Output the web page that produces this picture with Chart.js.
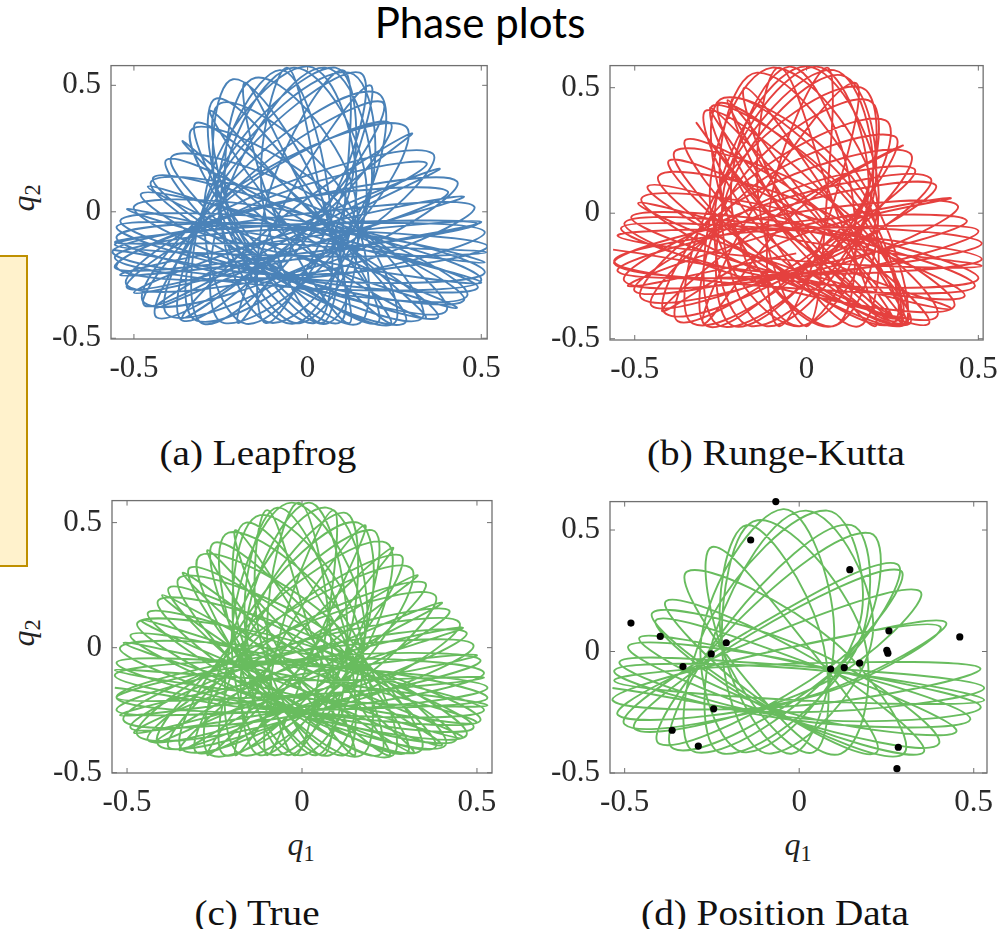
<!DOCTYPE html>
<html><head><meta charset="utf-8">
<script src="https://cdn.jsdelivr.net/npm/chart.js@4.4.0/dist/chart.umd.min.js"></script>
<style>
html,body{margin:0;padding:0;background:#fff;}
body{width:1002px;height:929px;position:relative;overflow:hidden;}
.abs{position:absolute;}
.title{font-family:Lato,"Open Sans",sans-serif;font-size:42px;line-height:42px;color:#000;white-space:nowrap;text-align:center;width:400px;}
.cap{font-family:"Liberation Serif","Times New Roman",serif;font-size:35px;line-height:35px;color:#111;white-space:nowrap;text-align:center;width:400px;transform:scaleX(1.12);transform-origin:center;}
.ql{font-family:"Liberation Serif",serif;font-style:italic;font-size:32px;line-height:32px;white-space:nowrap;color:#222;text-align:center;width:60px;height:32px;}
.ql span{font-style:normal;font-size:70%;position:relative;top:0.25em;}
.box{left:-3px;top:255px;width:27px;height:308px;background:#FFF2CC;border:2px solid #BF9000;}
</style></head>
<body>
<div class="abs box"></div>
<div class="abs title" style="left:280px;top:1px;">Phase plots</div>
<div class="abs cap" style="left:58px;top:436px;">(a) Leapfrog</div>
<div class="abs cap" style="left:576px;top:436px;">(b) Runge-Kutta</div>
<div class="abs cap" style="left:57px;top:896px;">(c) True</div>
<div class="abs cap" style="left:575px;top:896px;">(d) Position Data</div>
<div class="abs ql" style="left:-7px;top:182px;transform:rotate(-90deg);"><i>q</i><span>2</span></div>
<div class="abs ql" style="left:-7px;top:617px;transform:rotate(-90deg);"><i>q</i><span>2</span></div>
<div class="abs ql" style="left:271px;top:828px;"><i>q</i><span>1</span></div>
<div class="abs ql" style="left:768px;top:828px;"><i>q</i><span>1</span></div>
<script>
// ---- tick labels ----
const tickValues = [-0.5, 0, 0.5];

// ---- (a) Leapfrog trajectory (q1, q2) ----
const leapfrogPath = [
[-0.562,-0.15],[-0.03,-0.25],[0.518,-0.137],[-0.02,-0.065],
[-0.55,-0.06],[-0.04,-0.26],[0.51,-0.24],[0.00,-0.04],
[-0.539,-0.035],[-0.05,-0.26],[0.49,-0.30],[0.00,-0.07],
[-0.48,0.07],[-0.07,-0.25],[0.45,-0.35],[0.03,-0.03],
[-0.444,0.136],[-0.09,-0.22],[0.375,-0.418],[0.02,-0.06],
[-0.406,0.206],[-0.15,-0.21],[0.28,-0.44],[0.03,-0.02],
[-0.32,0.352],[-0.16,-0.11],[0.20,-0.44],[0.04,0.02],
[-0.263,0.448],[-0.22,-0.05],[0.089,-0.44],[0.04,0.06],
[-0.215,0.524],[-0.25,0.00],[0.02,-0.44],[0.06,0.08],
[-0.08,0.56],[-0.26,0.05],[-0.044,-0.443],[0.14,0.07],
[0.00,0.575],[-0.29,0.10],[-0.177,-0.443],[0.11,0.03],
[0.08,0.57],[-0.27,0.12],[-0.30,-0.443],[0.05,0.00],
[0.15,0.55],[-0.24,0.13],[-0.36,-0.43],[0.03,-0.01],
[0.213,0.435],[-0.21,0.09],[-0.434,-0.418],[0.00,-0.07],
[0.237,0.352],[-0.20,0.08],[-0.47,-0.37],[-0.03,-0.09],
[0.342,0.193],[-0.14,0.04],[-0.52,-0.30],[-0.03,-0.15],
[0.404,0.079],[-0.11,0.03],[-0.555,-0.22],[-0.05,-0.17],
[0.489,-0.048],[-0.04,-0.05],[-0.555,-0.12],[-0.03,-0.13],
[0.51,-0.20],[-0.02,-0.07],[-0.555,-0.18],[-0.03,-0.30],
[0.50,-0.27],[0.00,-0.06],[-0.55,-0.10],[-0.04,-0.30],
[0.46,-0.33],[0.02,-0.02],[-0.50,0.02],[-0.06,-0.27],
[0.40,-0.39],[0.05,0.00],[-0.45,0.12],[-0.09,-0.24],
[0.33,-0.42],[0.07,0.02],[-0.39,0.22],[-0.12,-0.20],
[0.25,-0.44],[0.08,0.05],[-0.33,0.33],[-0.16,-0.14],
[0.15,-0.44],[0.10,0.08],[-0.25,0.43],[-0.20,-0.07],
[0.06,-0.44],[0.13,0.10],[-0.15,0.53],[-0.23,0.00],
[-0.02,-0.44],[0.17,0.09],[-0.04,0.57],[-0.25,0.06],
[-0.10,-0.44],[0.18,0.06],[0.05,0.57],[-0.23,0.09],
[-0.24,-0.44],[0.16,0.00],[0.12,0.55],[-0.26,0.12],
[-0.32,-0.43],[0.12,-0.06],[0.20,0.47],[-0.22,0.12],
[-0.40,-0.41],[0.09,-0.12],[0.28,0.34],[-0.20,0.10],
[-0.47,-0.36],[0.06,-0.17],[0.36,0.23],[-0.16,0.06],
[-0.52,-0.29],[0.04,-0.21],[0.43,0.12],[-0.12,0.02],
[-0.55,-0.22],[0.02,-0.24],[0.48,0.02],[-0.08,-0.02],
[-0.562,-0.16],[0.00,-0.26],[0.51,-0.08],[-0.05,-0.05],
[-0.555,-0.13],[-0.02,-0.175],[0.515,-0.16],[-0.02,-0.115],
[-0.52,0.01],[-0.02,-0.18],[0.50,-0.28],[0.00,-0.09],
[-0.46,0.10],[-0.03,-0.175],[0.43,-0.38],[0.00,-0.105],
[-0.36,0.28],[-0.05,-0.11],[0.34,-0.42],[0.03,-0.03],
[-0.28,0.40],[-0.06,-0.05],[0.24,-0.44],[0.02,0.01],
[-0.18,0.51],[-0.10,0.01],[0.12,-0.44],[0.04,0.06],
[-0.06,0.57],[-0.13,0.05],[0.04,-0.44],[0.11,0.08],
[0.10,0.56],[-0.11,0.08],[-0.12,-0.44],[0.09,0.04],
[0.18,0.50],[-0.06,0.05],[-0.20,-0.44],[0.04,0.01],
[0.30,0.31],[-0.07,-0.02],[-0.36,-0.42],[0.01,-0.09],
[0.38,0.17],[-0.05,-0.07],[-0.44,-0.38],[-0.01,-0.14],
[0.45,0.06],[-0.04,-0.08],[-0.50,-0.32],[-0.01,-0.18],
[0.50,-0.04],[-0.03,-0.105],[-0.54,-0.25],[-0.01,-0.185]
];

// ---- (b) Runge-Kutta trajectory ----
const rungeKuttaPath = [
[-0.563,-0.145],[-0.03,-0.24],[0.51,-0.183],[-0.02,-0.07],
[-0.54,-0.06],[-0.04,-0.27],[0.50,-0.26],[0.00,-0.05],
[-0.51,-0.015],[-0.05,-0.25],[0.46,-0.33],[0.02,-0.06],
[-0.462,0.107],[-0.08,-0.22],[0.356,-0.44],[0.03,-0.04],
[-0.40,0.21],[-0.12,-0.18],[0.30,-0.44],[0.05,0.00],
[-0.351,0.293],[-0.13,-0.12],[0.27,-0.44],[0.09,0.02],
[-0.29,0.41],[-0.15,-0.04],[0.27,-0.42],[0.14,0.02],
[-0.25,0.44],[-0.10,-0.02],[0.26,-0.43],[0.16,0.05],
[-0.21,0.46],[-0.07,0.00],[0.28,-0.44],[0.19,0.06],
[-0.144,0.56],[-0.24,0.03],[0.077,-0.45],[0.13,0.10],
[-0.05,0.584],[-0.22,0.06],[-0.02,-0.45],[0.18,0.08],
[0.03,0.584],[-0.24,0.10],[-0.116,-0.45],[0.19,0.04],
[0.10,0.55],[-0.22,0.12],[-0.212,-0.45],[0.14,-0.02],
[0.18,0.45],[-0.20,0.12],[-0.289,-0.45],[0.10,-0.06],
[0.255,0.307],[-0.18,0.08],[-0.375,-0.43],[0.06,-0.12],
[0.312,0.178],[-0.15,0.03],[-0.45,-0.37],[0.04,-0.18],
[0.375,0.113],[-0.12,0.00],[-0.50,-0.31],[0.02,-0.21],
[0.466,-0.029],[-0.06,-0.04],[-0.55,-0.23],[0.00,-0.24],
[0.51,-0.12],[-0.02,-0.06],[-0.56,-0.19],[-0.03,-0.30],
[0.49,-0.29],[0.00,-0.07],[-0.53,-0.04],[-0.05,-0.31],
[0.43,-0.37],[0.04,-0.03],[-0.48,0.06],[-0.07,-0.27],
[0.38,-0.41],[0.06,0.00],[-0.43,0.15],[-0.10,-0.23],
[0.29,-0.44],[0.10,0.02],[-0.38,0.25],[-0.14,-0.16],
[0.25,-0.44],[0.15,0.03],[-0.27,0.43],[-0.12,-0.06],
[0.154,-0.45],[0.17,0.07],[-0.24,0.46],[-0.22,-0.04],
[0.077,-0.45],[0.20,0.09],[-0.10,0.58],[-0.28,0.02],
[-0.02,-0.45],[0.21,0.06],[0.00,0.585],[-0.26,0.07],
[-0.16,-0.45],[0.18,0.02],[0.08,0.57],[-0.25,0.11],
[-0.25,-0.45],[0.14,-0.04],[0.16,0.50],[-0.24,0.13],
[-0.33,-0.44],[0.10,-0.09],[0.23,0.37],[-0.20,0.10],
[-0.41,-0.40],[0.07,-0.15],[0.30,0.24],[-0.17,0.07],
[-0.48,-0.34],[0.05,-0.19],[0.36,0.14],[-0.13,0.03],
[-0.53,-0.27],[0.02,-0.23],[0.44,0.03],[-0.09,-0.01],
[-0.56,-0.20],[0.00,-0.25],[0.50,-0.07],[-0.05,-0.06],
[-0.55,-0.09],[-0.025,-0.19],[0.51,-0.21],[-0.015,-0.11],
[-0.49,0.04],[-0.055,-0.215],[0.42,-0.38],[-0.015,-0.125],
[-0.32,0.36],[-0.06,-0.065],[0.28,-0.43],[0.02,-0.005],
[-0.28,0.42],[-0.05,-0.02],[0.25,-0.42],[0.02,0.02],
[-0.23,0.45],[-0.02,-0.025],[0.29,-0.44],[0.08,0.035],
[-0.18,0.50],[-0.055,0.00],[0.20,-0.45],[0.075,0.05],
[-0.08,0.58],[-0.14,0.055],[0.00,-0.45],[0.06,0.075],
[0.06,0.58],[-0.10,0.08],[-0.08,-0.45],[0.08,0.05],
[0.14,0.52],[-0.135,0.065],[-0.30,-0.44],[-0.025,0.015],
[0.28,0.27],[-0.105,-0.025],[-0.42,-0.39],[-0.035,-0.095],
[0.42,0.06],[-0.07,-0.07],[-0.52,-0.29],[-0.03,-0.16]
];

// ---- (c) True trajectory ----
const truePath = [
[-0.535,-0.16],[-0.01,-0.25],[0.53,-0.16],[-0.01,-0.07],
[-0.53,-0.06],[-0.03,-0.25],[0.52,-0.25],[0.01,-0.06],
[-0.49,0.05],[-0.04,-0.24],[0.49,-0.32],[0.04,-0.03],
[-0.44,0.14],[-0.06,-0.22],[0.44,-0.37],[0.06,-0.01],
[-0.38,0.24],[-0.08,-0.17],[0.38,-0.40],[0.08,0.01],
[-0.32,0.32],[-0.11,-0.13],[0.30,-0.42],[0.09,0.03],
[-0.25,0.42],[-0.14,-0.07],[0.22,-0.43],[0.11,0.06],
[-0.16,0.50],[-0.16,-0.01],[0.12,-0.43],[0.12,0.08],
[-0.07,0.56],[-0.16,0.05],[0.04,-0.43],[0.13,0.08],
[0.02,0.58],[-0.16,0.08],[-0.04,-0.43],[0.14,0.07],
[0.12,0.54],[-0.15,0.09],[-0.12,-0.43],[0.15,0.02],
[0.20,0.47],[-0.14,0.08],[-0.22,-0.43],[0.12,-0.04],
[0.28,0.37],[-0.12,0.05],[-0.30,-0.42],[0.10,-0.10],
[0.35,0.26],[-0.10,0.02],[-0.38,-0.40],[0.07,-0.16],
[0.42,0.15],[-0.07,-0.01],[-0.44,-0.37],[0.05,-0.21],
[0.47,0.06],[-0.05,-0.03],[-0.49,-0.32],[0.03,-0.23],
[0.51,-0.05],[-0.03,-0.05],[-0.53,-0.25],[0.01,-0.25],
[0.53,-0.20],[-0.01,-0.06],[-0.535,-0.11],[-0.02,-0.255],
[0.51,-0.29],[0.03,-0.03],[-0.52,0.00],[-0.04,-0.26],
[0.47,-0.35],[0.06,-0.01],[-0.47,0.10],[-0.06,-0.24],
[0.41,-0.39],[0.08,0.01],[-0.41,0.19],[-0.08,-0.21],
[0.34,-0.41],[0.10,0.04],[-0.35,0.28],[-0.11,-0.17],
[0.26,-0.43],[0.12,0.06],[-0.29,0.37],[-0.14,-0.12],
[0.17,-0.43],[0.14,0.08],[-0.21,0.46],[-0.17,-0.05],
[0.08,-0.43],[0.16,0.09],[-0.12,0.53],[-0.19,0.01],
[0.00,-0.43],[0.18,0.08],[-0.03,0.58],[-0.20,0.07],
[-0.08,-0.43],[0.18,0.04],[0.07,0.56],[-0.19,0.09],
[-0.17,-0.43],[0.16,-0.02],[0.16,0.50],[-0.17,0.10],
[-0.26,-0.43],[0.14,-0.09],[0.24,0.42],[-0.16,0.08],
[-0.34,-0.41],[0.11,-0.15],[0.31,0.32],[-0.13,0.06],
[-0.41,-0.39],[0.08,-0.21],[0.38,0.21],[-0.10,0.03],
[-0.47,-0.35],[0.05,-0.25],[0.45,0.10],[-0.07,0.00],
[-0.51,-0.29],[0.02,-0.26],[0.49,0.01],[-0.04,-0.02],
[-0.53,-0.20],[0.01,-0.25],[0.52,-0.10],[-0.02,-0.05],
[-0.53,-0.20],[-0.01,-0.19],[0.52,-0.12],[-0.01,-0.13],
[-0.535,-0.09],[-0.015,-0.20],[0.53,-0.23],[-0.005,-0.12],
[-0.51,0.02],[-0.02,-0.19],[0.50,-0.30],[0.01,-0.09],
[-0.46,0.11],[-0.02,-0.16],[0.46,-0.36],[0.02,-0.09],
[-0.40,0.21],[-0.01,-0.16],[0.40,-0.39],[0.05,-0.08],
[-0.34,0.30],[-0.04,-0.09],[0.32,-0.42],[0.02,-0.03],
[-0.27,0.39],[-0.06,-0.05],[0.25,-0.43],[0.04,0.01],
[-0.19,0.47],[-0.07,0.00],[0.15,-0.43],[0.03,0.04],
[-0.10,0.55],[-0.12,0.04],[0.06,-0.43],[0.08,0.08],
[-0.01,0.58],[-0.10,0.075],[-0.02,-0.43],[0.07,0.075],
[0.09,0.55],[-0.06,0.07],[-0.10,-0.43],[0.05,0.05],
[0.18,0.49],[-0.05,0.05],[-0.19,-0.43],[0.04,0.01],
[0.26,0.40],[-0.04,0.01],[-0.27,-0.43],[0.03,-0.04],
[0.33,0.29],[-0.05,-0.03],[-0.35,-0.41],[0.03,-0.10],
[0.40,0.18],[-0.03,-0.07],[-0.42,-0.38],[0.01,-0.13],
[0.46,0.08],[-0.03,-0.08],[-0.48,-0.34],[0.01,-0.18],
[0.50,-0.03],[-0.02,-0.11],[-0.52,-0.27],[0.00,-0.19]
];

// ---- (d) trajectory through the position data ----
const positionPath = [
[-0.535,-0.15],[-0.01,-0.25],[0.53,-0.15],[0.00,-0.06],
[-0.515,-0.044],[-0.03,-0.27],[0.52,-0.23],[0.01,-0.05],
[-0.458,0.056],[-0.06,-0.24],[0.45,-0.33],[0.03,-0.05],
[-0.41,0.129],[-0.10,-0.23],[0.356,-0.415],[0.04,-0.03],
[-0.381,0.208],[-0.13,-0.18],[0.222,-0.415],[0.02,0.03],
[-0.25,0.43],[-0.20,-0.06],[0.04,-0.415],[0.06,0.08],
[-0.151,0.52],[-0.22,0.02],[-0.02,-0.42],[0.10,0.10],
[-0.046,0.586],[-0.28,0.06],[-0.151,-0.415],[0.17,0.10],
[0.08,0.58],[-0.26,0.12],[-0.295,-0.415],[0.16,0.02],
[0.203,0.487],[-0.18,0.12],[-0.40,-0.38],[0.10,-0.05],
[0.289,0.334],[-0.14,0.07],[-0.47,-0.32],[0.07,-0.13],
[0.346,0.248],[-0.12,0.05],[-0.52,-0.26],[0.05,-0.18],
[0.404,0.102],[-0.08,0.00],[-0.535,-0.20],[0.02,-0.22],
[0.519,-0.07],[-0.02,-0.05],[-0.53,-0.12],[-0.01,-0.20],
[0.53,-0.20],[0.00,-0.07],[-0.53,-0.08],[-0.03,-0.28],
[0.49,-0.28],[0.02,-0.05],[-0.49,0.02],[-0.05,-0.27],
[0.40,-0.38],[0.06,-0.01],[-0.42,0.16],[-0.10,-0.22],
[0.30,-0.42],[0.10,0.04],[-0.32,0.33],[-0.15,-0.12],
[0.12,-0.42],[0.18,0.08],[-0.12,0.54],[-0.22,-0.01],
[-0.08,-0.42],[0.21,0.06],[0.02,0.58],[-0.24,0.08],
[-0.22,-0.42],[0.16,0.00],[0.15,0.52],[-0.20,0.12],
[-0.36,-0.40],[0.10,-0.08],[0.28,0.36],[-0.15,0.08],
[-0.50,-0.30],[0.04,-0.18],[0.42,0.12],[-0.09,0.00]
];

// ---- (d) observed position data (black dots) ----
const positionData = [
[-0.067,0.617],[-0.139,0.459],[0.145,0.337],[-0.482,0.117],[-0.398,0.062],
[-0.209,0.036],[-0.252,-0.010],[-0.333,-0.062],[0.257,0.085],[0.460,0.060],
[0.251,0.005],[0.254,-0.007],[0.090,-0.072],[0.129,-0.066],[0.173,-0.048],
[-0.245,-0.236],[-0.364,-0.324],[-0.289,-0.389],[0.284,-0.394],[0.280,-0.482]
];

// ---- axis ranges ----
const xRangeA = [-0.566, 0.517], yRangeA = [-0.503, 0.578];
const xRangeB = [-0.572, 0.514], yRangeB = [-0.505, 0.588];
const xRangeC = [-0.543, 0.543], yRangeC = [-0.501, 0.588];
const xRangeD = [-0.542, 0.538], yRangeD = [-0.500, 0.617];

const COLORS = {blue:'#4a82b8', red:'#e5403e', green:'#68bc5e'};

function fmt(v){ if (Math.abs(v) < 1e-9) return '0'; return (v < 0 ? '-' : '') + String(Math.abs(v)); }
function toXY(arr){ return arr.map(p => ({x:p[0], y:p[1]})); }

const framePlugin = {
  id:'frame',
  beforeDatasetsDraw(chart){
    const {ctx, chartArea:a, scales:{x, y}} = chart;
    ctx.save();
    ctx.strokeStyle = '#707070';
    ctx.lineWidth = 1.3;
    ctx.strokeRect(a.left, a.top, a.right - a.left, a.bottom - a.top);
    ctx.lineWidth = 1;
    ctx.beginPath();
    tickValues.forEach(v => {
      const px = x.getPixelForValue(v);
      ctx.moveTo(px, a.bottom); ctx.lineTo(px, a.bottom - 5);
      ctx.moveTo(px, a.top); ctx.lineTo(px, a.top + 5);
      const py = y.getPixelForValue(v);
      ctx.moveTo(a.left, py); ctx.lineTo(a.left + 5, py);
      ctx.moveTo(a.right, py); ctx.lineTo(a.right - 5, py);
    });
    ctx.stroke();
    ctx.restore();
  }
};

function panel(fr, xr, yr, datasets){
  const padL = 75, padT = 20, padR = 22, padB = 50;
  const w = fr.r - fr.l, h = fr.b - fr.t;
  const cv = document.createElement('canvas');
  cv.width = w + padL + padR; cv.height = h + padT + padB;
  cv.style.cssText = 'position:absolute;left:' + (fr.l - padL) + 'px;top:' + (fr.t - padT) + 'px;width:' + cv.width + 'px;height:' + cv.height + 'px;';
  document.body.appendChild(cv);
  const tickFont = {family:'Liberation Serif', size:31};
  new Chart(cv, {
    type:'line',
    data:{datasets},
    options:{
      responsive:false, animation:false, devicePixelRatio:1, events:[],
      layout:{padding:{left:0, top:padT, right:padR, bottom:0}},
      plugins:{legend:{display:false}, tooltip:{enabled:false}},
      scales:{
        x:{type:'linear', min:xr[0], max:xr[1],
           afterFit:s => { s.height = padB; },
           afterBuildTicks:s => { s.ticks = tickValues.map(v => ({value:v})); },
           ticks:{callback:v => fmt(v), font:tickFont, color:'#2a2a2a', padding:11, maxRotation:0, autoSkip:false},
           grid:{display:false, drawTicks:false}, border:{display:false}},
        y:{type:'linear', min:yr[0], max:yr[1],
           afterFit:s => { s.width = padL; },
           afterBuildTicks:s => { s.ticks = tickValues.map(v => ({value:v})); },
           ticks:{callback:v => fmt(v), font:tickFont, color:'#2a2a2a', padding:10, autoSkip:false},
           grid:{display:false, drawTicks:false}, border:{display:false}}
      }
    },
    plugins:[framePlugin]
  });
}

function curve(arr, color){
  return {data:toXY(arr), borderColor:color, borderWidth:1.9, pointRadius:0, tension:0.4, fill:false, order:1};
}

panel({l:111, t:57, r:490, b:339}, xRangeA, yRangeA, [curve(leapfrogPath, COLORS.blue)]);
panel({l:610, t:57, r:987, b:340}, xRangeB, yRangeB, [curve(rungeKuttaPath, COLORS.red)]);
panel({l:112, t:492, r:492, b:773}, xRangeC, yRangeC, [curve(truePath, COLORS.green)]);
panel({l:610, t:493, r:987, b:773}, xRangeD, yRangeD, [
  {data:toXY(positionData), showLine:false, pointRadius:3.6, pointBackgroundColor:'#000', pointBorderWidth:0, borderColor:'#000', order:0, clip:false},
  curve(positionPath, COLORS.green)
]);
</script>
</body></html>
